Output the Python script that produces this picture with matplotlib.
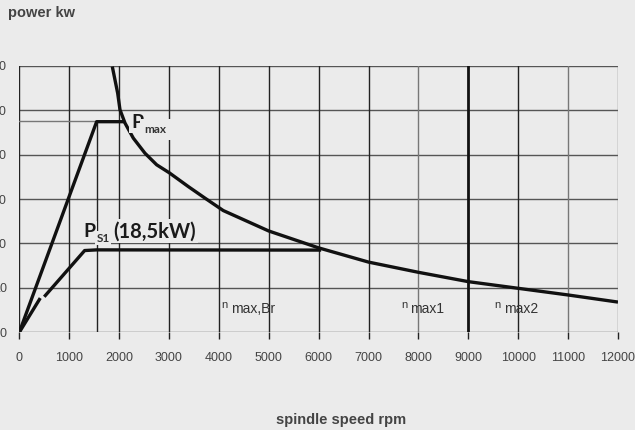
import matplotlib
matplotlib.use("Agg")
import matplotlib.pyplot as plt

# ---- data ----
x_ticks = [0, 1000, 2000, 3000, 4000, 5000, 6000, 7000, 8000, 9000, 10000, 11000, 12000]
y_ticks = [0, 10, 20, 30, 40, 50, 60]

# Pmax (S6) ramp and flat
pmax_rpm = [0, 1550, 2118]
pmax_kw = [0, 47.4, 47.4]

# decreasing power curve
curve_rpm = [1864, 1972, 2018, 2118, 2285, 2519, 2753, 3006, 3387, 3721, 4088,
             5000, 6000, 7000, 8000, 9000, 10000, 11000, 12000]
curve_kw = [59.8, 53.8, 50.1, 47.1, 43.7, 40.3, 37.7, 35.9, 32.8, 30.2, 27.4,
            22.8, 19.0, 15.8, 13.5, 11.4, 9.9, 8.4, 6.8]

# PS1 curve (two segments)
ps1_a_rpm = [0, 420]
ps1_a_kw = [0, 7.7]
ps1_b_rpm = [500, 1310, 1550, 6050]
ps1_b_kw = [8.0, 18.4, 18.55, 18.5]

# reference lines
pmax_level = 47.6
corner_rpm = 1550

labels_n = [(4056, "max,Br"), (7650, "max1"), (9527, "max2")]

BG = "#ebebeb"
W, H = 635, 430

fig = plt.figure(figsize=(W / 100, H / 100), dpi=100, facecolor=BG)
ax = fig.add_axes([19.3 / W, 1 - 332.3 / H, (618 - 19.3) / W, (332.3 - 65.7) / H])
ax.set_facecolor(BG)
ax.set_xlim(0, 12000)
ax.set_ylim(0, 60)

# grid
for yv in y_ticks:
    ax.axhline(yv, color="#555555", lw=1.0, zorder=1)
for xv in x_ticks:
    c = "#222222"
    lw = 1.0
    if xv in (8000, 11000, 12000):
        c = "#777777"
    if xv == 9000:
        lw = 2.0
        c = "#111111"
    ax.axvline(xv, color=c, lw=lw, zorder=1)

ax.plot([0, corner_rpm], [pmax_level, pmax_level], color="#777777", lw=1.0, zorder=1)
ax.plot([corner_rpm, corner_rpm], [0, pmax_level], color="#222222", lw=1.0, zorder=1)

for s in ax.spines.values():
    s.set_visible(False)

kw = dict(color="#111111", lw=2.4, solid_capstyle="butt", solid_joinstyle="round", zorder=3)
ax.plot(pmax_rpm, pmax_kw, **kw)
ax.plot(curve_rpm, curve_kw, **kw)
ax.plot(ps1_a_rpm, ps1_a_kw, **kw)
ax.plot(ps1_b_rpm, ps1_b_kw, **kw)

ax.set_xticks(x_ticks)
ax.set_xticklabels([str(v) for v in x_ticks])
ax.set_yticks(y_ticks)
ax.set_yticklabels([str(v) for v in y_ticks])
ax.tick_params(axis="x", length=5, width=1, color="#222222", pad=9,
               labelsize=9, labelcolor="#444444")
ax.tick_params(axis="y", length=0, pad=9, labelsize=9, labelcolor="#444444")
for t in ax.get_xticklabels() + ax.get_yticklabels():
    t.set_fontfamily("Liberation Sans")

# annotations
bb = dict(facecolor=BG, edgecolor="none", pad=1.5)
tcol = "#1a1a1a"
ax.text(2250, 46.0, "P", fontsize=14, fontweight="bold", family="Lato", color=tcol,
        va="baseline", ha="left", bbox=bb, zorder=4)
ax.text(2510, 44.9, "max", fontsize=8.5, fontweight="bold", family="Lato", color="#333333",
        va="baseline", ha="left", bbox=dict(facecolor=BG, edgecolor="none", pad=3.5), zorder=4)

ax.text(1280, 21.4, "P", fontsize=14, fontweight="bold", family="Lato", color=tcol,
        va="baseline", ha="left", bbox=bb, zorder=4)
ax.text(1550, 20.4, "S1", fontsize=8.5, fontweight="bold", family="Lato", color="#333333",
        va="baseline", ha="left", bbox=dict(facecolor=BG, edgecolor="none", pad=1.0), zorder=5)
ax.text(1880, 21.4, "(18,5kW)", fontsize=14.5, fontweight="bold", family="Lato", color=tcol,
        va="baseline", ha="left", bbox=bb, zorder=4)

for xr, s in labels_n:
    ax.text(xr, 5.4, "n", fontsize=8, family="Liberation Sans", color="#333333",
            ha="left", va="baseline", zorder=4)
    ax.text(xr + 190, 4.3, s, fontsize=10, family="Liberation Sans", color="#333333",
            ha="left", va="baseline", zorder=4)

fig.text(8 / W, 1 - 13 / H, "power kw", fontsize=10.5, fontweight="bold",
         family="Liberation Sans", color="#444444", ha="left", va="center")
fig.text(341 / W, 1 - 420 / H, "spindle speed rpm", fontsize=10.5, fontweight="bold",
         family="Liberation Sans", color="#444444", ha="center", va="center")

fig.savefig("out.png", dpi=100, facecolor=BG)
